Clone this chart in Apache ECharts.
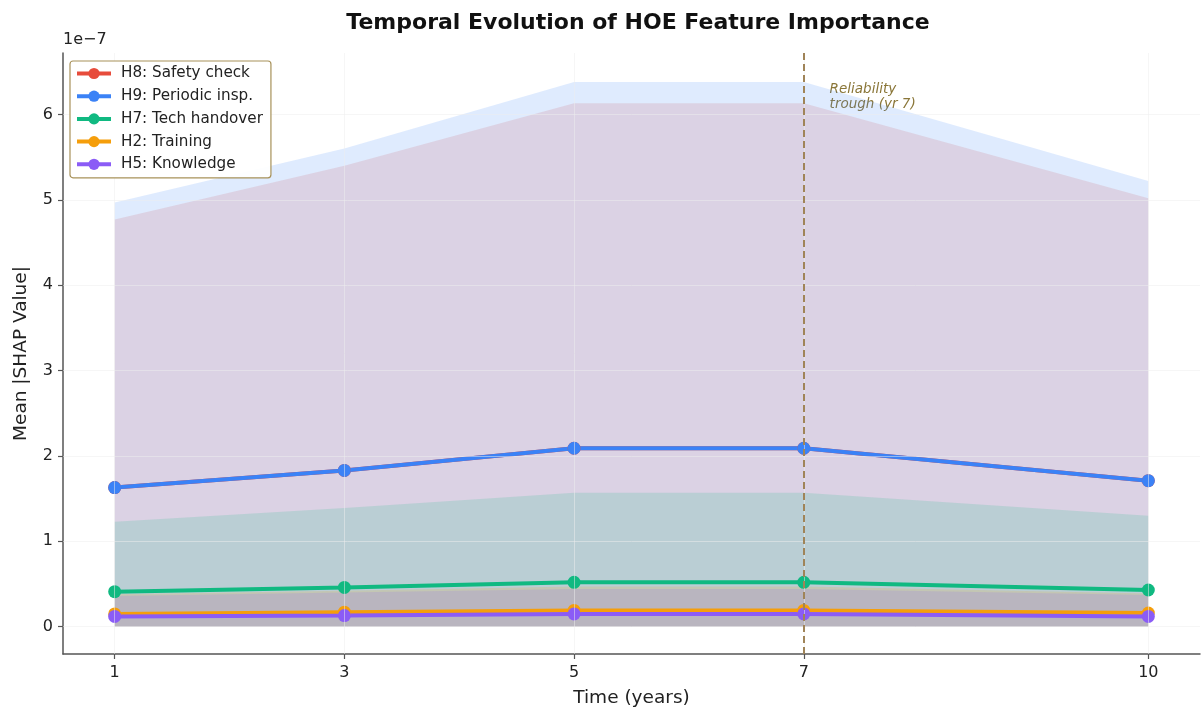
<!DOCTYPE html>
<html>
<head>
<meta charset="utf-8">
<script src="https://cdn.jsdelivr.net/npm/echarts@6/dist/echarts.min.js"></script>
<style>
html,body{margin:0;padding:0;background:#fff;}
#chart{width:1201px;height:713px;}
</style>
</head>
<body>
<div id="chart"></div>
<script>
// Values in units of 1e-7
const years = [1, 3, 5, 7, 10];
const xTicks = [1, 3, 5, 7, 10];
const yTicks = [0, 1, 2, 3, 4, 5, 6];

const names = ['H8: Safety check', 'H9: Periodic insp.', 'H7: Tech handover', 'H2: Training', 'H5: Knowledge'];
const colors = ['#e74c3c', '#3b82f6', '#10b981', '#f59e0b', '#8b5cf6'];

const h8Mean  = [1.63, 1.83, 2.09, 2.09, 1.71];
const h8Upper = [4.77, 5.40, 6.13, 6.13, 5.02];
const h9Mean  = [1.63, 1.83, 2.09, 2.09, 1.71];
const h9Upper = [4.97, 5.60, 6.38, 6.38, 5.22];
const h7Mean  = [0.41, 0.46, 0.52, 0.52, 0.43];
const h7Upper = [1.23, 1.39, 1.57, 1.57, 1.30];
const h2Mean  = [0.15, 0.17, 0.19, 0.19, 0.16];
const h2Upper = [0.38, 0.42, 0.47, 0.47, 0.39];
const h5Mean  = [0.12, 0.13, 0.15, 0.15, 0.12];
const h5Upper = [0.36, 0.40, 0.44, 0.44, 0.37];

const means = [h8Mean, h9Mean, h7Mean, h2Mean, h5Mean];
const uppers = [h8Upper, h9Upper, h7Upper, h2Upper, h5Upper];

const troughYear = 7;
const annotation = 'Reliability\ntrough (yr 7)';

const FONT = 'DejaVu Sans';
const pair = (arr) => years.map((x, i) => [x, arr[i]]);

const series = [];
// bands (fill from 0 to mean+std)
uppers.forEach((u, i) => {
  series.push({
    name: names[i] + ' band',
    type: 'line',
    data: pair(u),
    symbol: 'none',
    lineStyle: { width: 0 },
    itemStyle: { color: colors[i] },
    areaStyle: { color: colors[i], opacity: 0.16, origin: 0 },
    silent: true,
    z: 1
  });
});
// gridlines
series.push({
  type: 'line',
  data: [],
  silent: true,
  z: 2,
  markLine: {
    silent: true,
    symbol: 'none',
    animation: false,
    label: { show: false },
    lineStyle: { color: '#eeeeee', width: 1, type: 'solid', opacity: 0.5 },
    data: xTicks.map(v => ({ xAxis: v })).concat(yTicks.map(v => ({ yAxis: v })))
  }
});
// trough line
series.push({
  type: 'line',
  data: [],
  silent: true,
  z: 2,
  markLine: {
    silent: true,
    symbol: 'none',
    animation: false,
    label: { show: false },
    lineStyle: { color: '#a08458', width: 2, type: [7, 4] },
    data: [{ xAxis: troughYear }]
  }
});
// mean lines
means.forEach((m, i) => {
  series.push({
    name: names[i],
    type: 'line',
    data: pair(m),
    symbol: 'circle',
    symbolSize: 13,
    showSymbol: true,
    lineStyle: { width: 4, color: colors[i] },
    itemStyle: { color: colors[i] },
    z: 3
  });
});

const chart = echarts.init(document.getElementById('chart'), null, { renderer: 'canvas' });
chart.setOption({
  animation: false,
  backgroundColor: '#fff',
  title: {
    text: 'Temporal Evolution of HOE Feature Importance',
    left: 633, top: 7, textAlign: 'center',
    textStyle: { fontFamily: FONT, fontSize: 22, fontWeight: 'bold', color: '#111' }
  },
  grid: { left: 63, right: 1, top: 53, bottom: 55, containLabel: false },
  legend: {
    data: names,
    orient: 'vertical',
    left: 70, top: 61,
    z: 20,
    padding: [5, 8, 6, 5],
    itemGap: 7.7,
    itemWidth: 34, itemHeight: 14,
    lineStyle: { width: 4 },
    backgroundColor: 'rgba(255,255,255,0.92)',
    borderColor: '#a8925a', borderWidth: 1.2, borderRadius: 3,
    selectedMode: false,
    textStyle: { fontFamily: FONT, fontSize: 15.2, color: '#222', padding: [0, 0, 0, 5] }
  },
  xAxis: {
    type: 'value',
    min: 0.55, max: 10.45,
    name: 'Time (years)',
    nameLocation: 'middle',
    nameGap: 35,
    nameTextStyle: { fontFamily: FONT, fontSize: 18.5, color: '#222' },
    axisLine: { show: true, onZero: false, lineStyle: { color: '#555', width: 1.5 } },
    axisTick: { show: true, length: 5, lineStyle: { color: '#555', width: 1.2 }, customValues: xTicks },
    axisLabel: { fontFamily: FONT, fontSize: 16, color: '#222', margin: 11, customValues: xTicks },
    splitLine: { show: false }
  },
  yAxis: {
    type: 'value',
    min: -0.32, max: 6.72,
    name: 'Mean |SHAP Value|',
    nameLocation: 'middle',
    nameGap: 32,
    nameTextStyle: { fontFamily: FONT, fontSize: 18.5, color: '#222' },
    axisLine: { show: true, onZero: false, lineStyle: { color: '#555', width: 1.5 } },
    axisTick: { show: true, length: 5, lineStyle: { color: '#555', width: 1.2 }, customValues: yTicks },
    axisLabel: { fontFamily: FONT, fontSize: 16, color: '#222', margin: 10, customValues: yTicks },
    splitLine: { show: false }
  },
  series: series
});

const p = chart.convertToPixel({ gridIndex: 0 }, [troughYear + 0.225, 6.38]);
chart.setOption({
  graphic: [
    {
      type: 'text', left: 63, top: 32,
      style: { text: '1e\u22127', fontFamily: FONT, fontSize: 16, fill: '#222' }
    },
    {
      type: 'text', x: p[0], y: p[1],
      style: { text: annotation, fontFamily: FONT, fontSize: 13.5, fontStyle: 'italic', fill: '#8a7638', lineHeight: 15 }
    }
  ]
});
</script>
</body>
</html>
